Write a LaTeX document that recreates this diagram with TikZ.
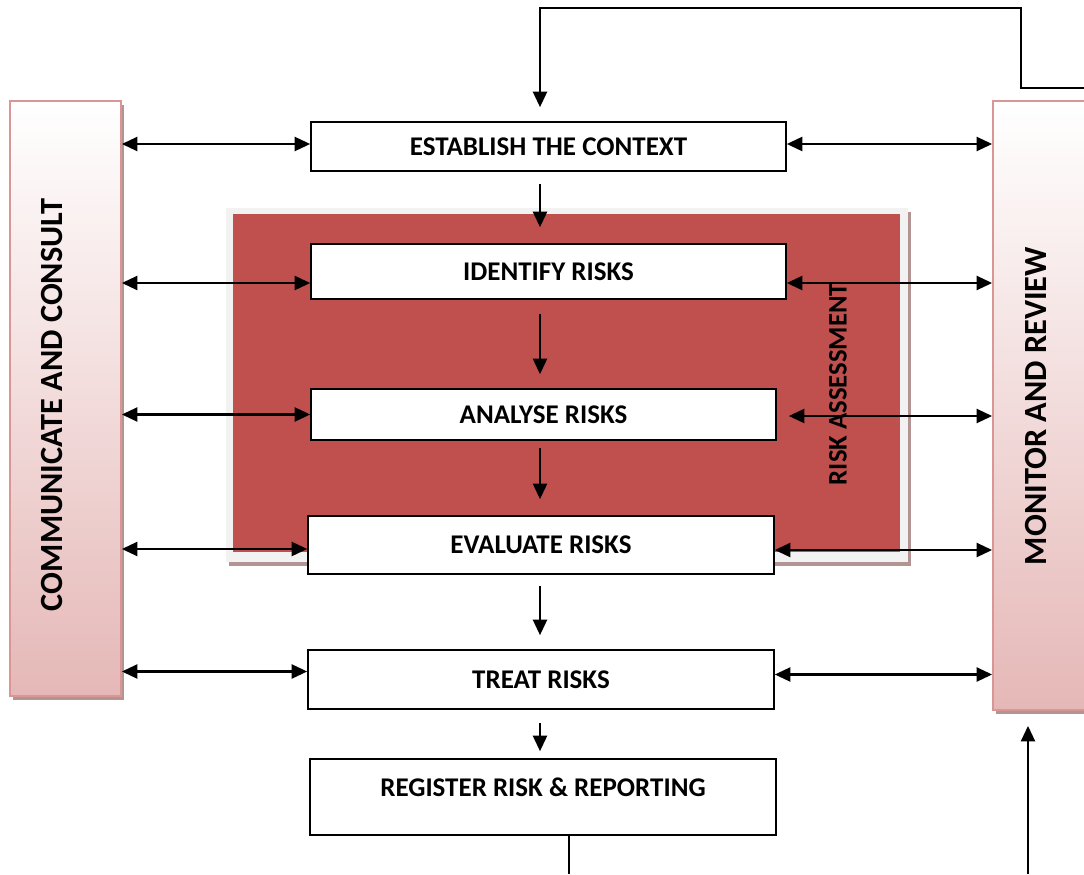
\documentclass[tikz,border=0pt]{standalone}
\usepackage{fontspec}
\setmainfont{Carlito}
\usetikzlibrary{arrows.meta,calc,shadows}
\definecolor{barpink}{RGB}{229,184,183}
\definecolor{barline}{RGB}{217,150,148}
\definecolor{shade}{RGB}{178,148,147}
\definecolor{assessred}{RGB}{192,80,77}
\definecolor{framegray}{RGB}{242,242,242}
\newdimen\px \px=0.025cm
\tikzstyle{line} = [draw, line width=1.5pt, -{Triangle[length=11pt,width=10pt]}]
\tikzstyle{dline} = [line, {Triangle[length=11pt,width=10pt]}-{Triangle[length=11pt,width=10pt]}]
\tikzstyle{box} = [rectangle, draw=black, line width=1.2pt, fill=white, minimum width=466\px,
                   font={\fontsize{19.2}{23}\selectfont\bfseries}]
\tikzstyle{sidebar} = [rectangle, draw=barline, line width=1.3pt, top color=white, bottom color=barpink,
                   drop shadow={shadow xshift=3\px, shadow yshift=-4\px, fill=shade, opacity=1}]
\tikzstyle{sidetext} = [rotate=90, font={\fontsize{23}{27}\selectfont\bfseries}]

\begin{document}
\begin{tikzpicture}[x=0.025cm, y=-0.025cm]
      \useasboundingbox (0,0) rectangle (1084,874);
      \clip (0,0) rectangle (1084,874);
      % side bars
      \node [sidebar, minimum width=111\px, minimum height=595\px] (consult) at (65.5,398.5) {};
      \node [sidebar, minimum width=95\px, minimum height=609\px] (monitor) at (1040.5,405.5) {};
      \node [sidetext] (consulttext) at (52,405) {COMMUNICATE AND CONSULT};
      \node [sidetext] (monitortext) at (1036,406) {MONITOR AND REVIEW};
      % risk assessment block
      \node [rectangle, fill=framegray, minimum width=682\px, minimum height=354\px,
             drop shadow={shadow xshift=3\px, shadow yshift=-4\px, fill=shade, opacity=1}] (frame) at (567,385) {};
      \node [rectangle, fill=assessred, minimum width=667\px, minimum height=338\px] (assess) at (566.5,383) {};
      \node [rotate=90, font={\fontsize{19}{23}\selectfont\bfseries}] (assesstext) at (838,384) {RISK ASSESSMENT};
      % steps
      \node [box, minimum width=475\px, minimum height=49\px] (establish) at (548.5,146.5) {ESTABLISH THE CONTEXT};
      \node [box, minimum width=475\px, minimum height=55\px] (identify) at (548.5,271.5) {IDENTIFY RISKS};
      \node [box, minimum width=465\px, minimum height=51\px] (analyse) at (543.5,414.5) {ANALYSE RISKS};
      \node [box, minimum height=58\px] (evaluate) at (541,545) {EVALUATE RISKS};
      \node [box, minimum height=59\px] (treat) at (541,679.5) {TREAT RISKS};
      \node [box, minimum height=76\px, text depth=20\px] (register) at (543,797) {REGISTER RISK \& REPORTING};
      \coordinate (spine) at (540,0);
      \coordinate (topin) at (1084,88);
      \coordinate (loop) at (1021,8);
      \coordinate (regout) at (569,874);
      \coordinate (monin) at (1028,874);
      % down the middle
      \path [line, shorten <=12\px, shorten >=16\px] let \p0=(establish.south), \p1=(identify.north), \p2=(spine) in
        (\x2,\y0) -- (\x2,\y1);
      \path [line, shorten <=14\px, shorten >=14\px] let \p0=(identify.south), \p1=(analyse.north), \p2=(spine) in
        (\x2,\y0) -- (\x2,\y1);
      \path [line, shorten <=7\px, shorten >=16\px] let \p0=(analyse.south), \p1=(evaluate.north), \p2=(spine) in
        (\x2,\y0) -- (\x2,\y1);
      \path [line, shorten <=11\px, shorten >=14\px] let \p0=(evaluate.south), \p1=(treat.north), \p2=(spine) in
        (\x2,\y0) -- (\x2,\y1);
      \path [line, shorten <=13\px, shorten >=7\px] let \p0=(treat.south), \p1=(register.north), \p2=(spine) in
        (\x2,\y0) -- (\x2,\y1);
      % feedback lines
      \path [line, shorten >=14\px] (topin) -| (loop) -| (establish.north -| spine);
      \draw [line width=1.5pt] (register.south -| regout) -- (regout);
      \path [line, shorten >=15\px] (monin) -- (monitor.south -| monin);
      % communicate and consult
      \path [dline] let \p0=($(establish.west)+(0,-2.5)$), \p1=(consult.east) in (\x1,\y0) -- (\x0,\y0);
      \path [dline] let \p0=($(identify.west)+(0,11.5)$), \p1=(consult.east) in (\x1,\y0) -- (\x0,\y0);
      \path [dline] let \p0=(analyse.west), \p1=(consult.east) in (\x1,\y0) -- (\x0,\y0);
      \path [dline] let \p0=($(evaluate.west)+(0,4)$), \p1=(consult.east) in (\x1,\y0) -- (\x0,\y0);
      \path [dline] let \p0=($(treat.west)+(0,-8)$), \p1=(consult.east) in (\x1,\y0) -- (\x0,\y0);
      % monitor and review
      \path [dline] let \p0=($(establish.east)+(0,-2.5)$), \p1=(monitor.west) in (\x0,\y0) -- (\x1,\y0);
      \path [dline] let \p0=($(identify.east)+(0,11.5)$), \p1=(monitor.west) in (\x0,\y0) -- (\x1,\y0);
      \path [dline, shorten <=12\px] let \p0=($(analyse.east)+(0,1.5)$), \p1=(monitor.west) in (\x0,\y0) -- (\x1,\y0);
      \path [dline] let \p0=($(evaluate.east)+(0,5)$), \p1=(monitor.west) in (\x0,\y0) -- (\x1,\y0);
      \path [dline] let \p0=($(treat.east)+(0,-5)$), \p1=(monitor.west) in (\x0,\y0) -- (\x1,\y0);
    \end{tikzpicture}
\end{document}
